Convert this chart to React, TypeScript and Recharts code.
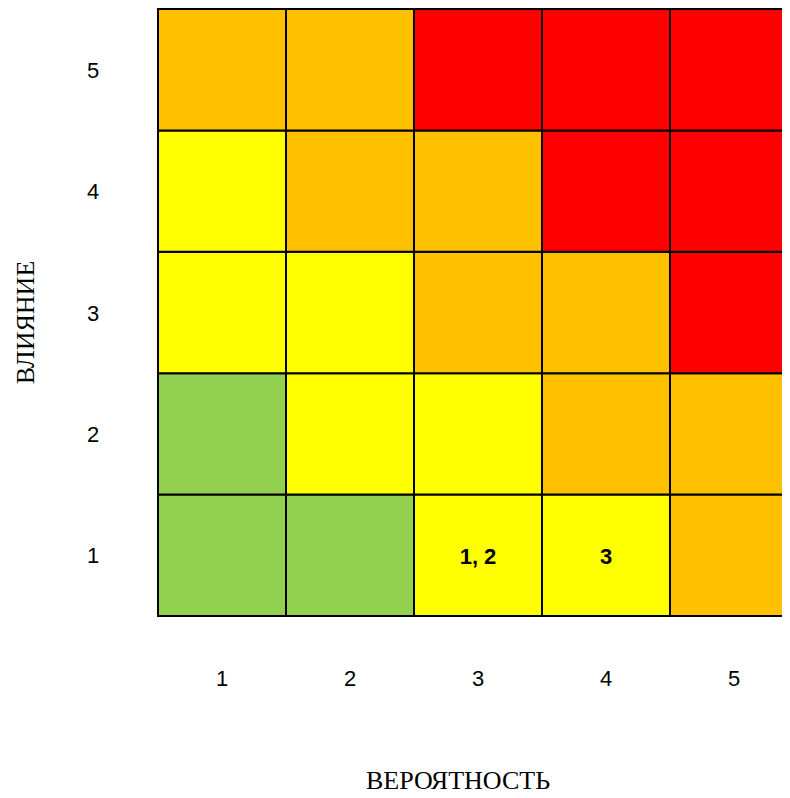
import { ScatterChart, Scatter, XAxis, YAxis, ReferenceArea } from "recharts";

const LEVELS = [1, 2, 3, 4, 5];
const X_TITLE = "ВЕРОЯТНОСТЬ";
const Y_TITLE = "ВЛИЯНИЕ";

// colour level per cell: rows = impact 1..5 (bottom to top), cols = probability 1..5
const GREEN = "#92d050";
const YELLOW = "#ffff00";
const ORANGE = "#ffc000";
const RED = "#ff0000";

const IMPACT_1 = [GREEN, GREEN, YELLOW, YELLOW, ORANGE];
const IMPACT_2 = [GREEN, YELLOW, YELLOW, ORANGE, ORANGE];
const IMPACT_3 = [YELLOW, YELLOW, ORANGE, ORANGE, RED];
const IMPACT_4 = [YELLOW, ORANGE, ORANGE, RED, RED];
const IMPACT_5 = [ORANGE, ORANGE, RED, RED, RED];
const ROWS = [IMPACT_1, IMPACT_2, IMPACT_3, IMPACT_4, IMPACT_5];

const RISKS = [
  { x: 3, y: 1, label: "1, 2" },
  { x: 4, y: 1, label: "3" },
];

const cells = ROWS.flatMap((row, r) =>
  row.map((fill, c) => ({ x: LEVELS[c], y: LEVELS[r], fill }))
);

const TICK_FONT = "Liberation Sans, Arial, sans-serif";
const TITLE_FONT = "Liberation Serif, Times New Roman, serif";

function YTick(props: any) {
  const { y, payload } = props;
  return (
    <text x={85} y={y} dy={8} textAnchor="middle" fontFamily={TICK_FONT} fontSize={22} fill="#000">
      {payload.value}
    </text>
  );
}

function XTick(props: any) {
  const { x, y, payload } = props;
  return (
    <text x={x} y={y} dy={62} textAnchor="middle" fontFamily={TICK_FONT} fontSize={22} fill="#000">
      {payload.value}
    </text>
  );
}

function RiskLabel(props: any) {
  const { cx, cy, payload } = props;
  return (
    <text x={cx} y={cy} dy={9} textAnchor="middle" fontFamily={TICK_FONT} fontWeight="bold" fontSize={22} fill="#000">
      {payload.label}
    </text>
  );
}

export default function App() {
  return (
    <div style={{ width: 782, height: 782 }}>
      <ScatterChart width={782} height={790} margin={{ top: 1, right: -8, bottom: 8, left: 0 }}>
        <XAxis
          type="number"
          dataKey="x"
          domain={[0.5, 5.5]}
          ticks={LEVELS}
          axisLine={false}
          tickLine={false}
          tick={<XTick />}
          height={174}
          label={() => (
            <text x={450} y={781} textAnchor="middle" fontFamily={TITLE_FONT} fontSize={26} fill="#000">
              {X_TITLE}
            </text>
          )}
        />
        <YAxis
          type="number"
          dataKey="y"
          domain={[0.5, 5.5]}
          ticks={LEVELS}
          axisLine={false}
          tickLine={false}
          tick={<YTick />}
          width={150}
          label={({ viewBox }: any) => {
            const cy = viewBox.y + viewBox.height / 2 + 10;
            return (
              <text
                x={17}
                y={cy}
                dy={9}
                transform={`rotate(-90 17 ${cy})`}
                textAnchor="middle"
                fontFamily={TITLE_FONT}
                fontSize={26}
                fill="#000"
              >
                {Y_TITLE}
              </text>
            );
          }}
        />
        {cells.map((c) => (
          <ReferenceArea
            key={`${c.x}-${c.y}`}
            x1={c.x - 0.5}
            x2={c.x + 0.5}
            y1={c.y - 0.5}
            y2={c.y + 0.5}
            fill={c.fill}
            fillOpacity={1}
            stroke="#000"
            strokeWidth={2}
            ifOverflow="visible"
          />
        ))}
        <Scatter data={RISKS} shape={<RiskLabel />} isAnimationActive={false} />
      </ScatterChart>
    </div>
  );
}
